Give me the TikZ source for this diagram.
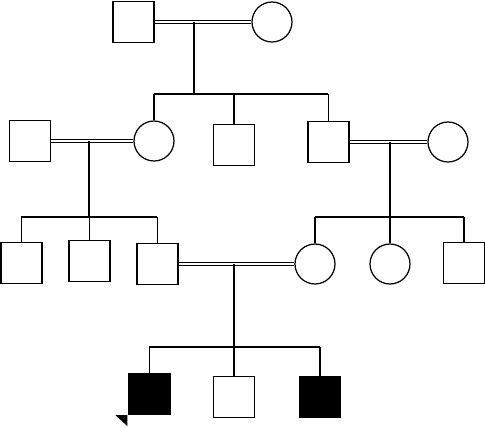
\documentclass[tikz,border=0pt]{standalone}
\begin{document}
\begin{tikzpicture}[x=0.02cm,y=-0.02cm,line width=0.7pt]
\tikzset{male/.style={draw,rectangle,minimum size=0.82cm,inner sep=0pt},
         female/.style={draw,circle,minimum size=0.8cm,inner sep=0pt},
         affected/.style={fill=black},
         mate/.style={double,double distance=1pt,line width=0.6pt}}
\useasboundingbox (0,0) rectangle (485,427);

% generation I
\node[male] (I1) at (133.5,22) {};
\node[female] (I2) at (272,22) {};

% generation II
\node[male] (II1) at (30,141) {};
\node[female] (II2) at (154,141) {};
\node[male] (II3) at (234,145) {};
\node[male] (II4) at (328.5,142) {};
\node[female] (II5) at (448,142) {};

% generation III
\node[male] (III1) at (21.5,263) {};
\node[male] (III2) at (89.5,261) {};
\node[male] (III3) at (157.5,264) {};
\node[female] (III4) at (315,264) {};
\node[female] (III5) at (390,264) {};
\node[male] (III6) at (464,263) {};

% generation IV, the proband is IV1
\node[male,affected] (IV1) at (149.5,394) {};
\node[male] (IV2) at (234,397) {};
\node[male,affected] (IV3) at (320,397) {};

% matings and their descent lines down to the sibships
\foreach \a/\b/\x/\y/\s in {I1/I2/194/22/94, II1/II2/89/141/217, II4/II5/390/142/217, III3/III4/234/264/347}
{
    \draw[mate] (\a) -- (\b);
    \coordinate (j\a) at (\x,\y);
    \coordinate (s\a) at (\x,\s);
    \draw (j\a) -- (s\a);
}

% sibships: first child, last child, all children
\foreach \p/\f/\l/\kids in {I1/II2/II4/{II2,II3,II4}, II1/III1/III3/{III1,III2,III3},
                            II4/III4/III6/{III4,III5,III6}, III3/IV1/IV3/{IV1,IV2,IV3}}
{
    \draw (\f.north |- s\p) -- (\l.north |- s\p);
    \foreach \c in \kids
        \draw (\c.north) -- (\c.north |- s\p);
}

% proband arrow
\fill (IV1.south west) ++(-13,0) -- ++(12,0) -- ++(0,11) -- cycle;
\end{tikzpicture}
\end{document}
